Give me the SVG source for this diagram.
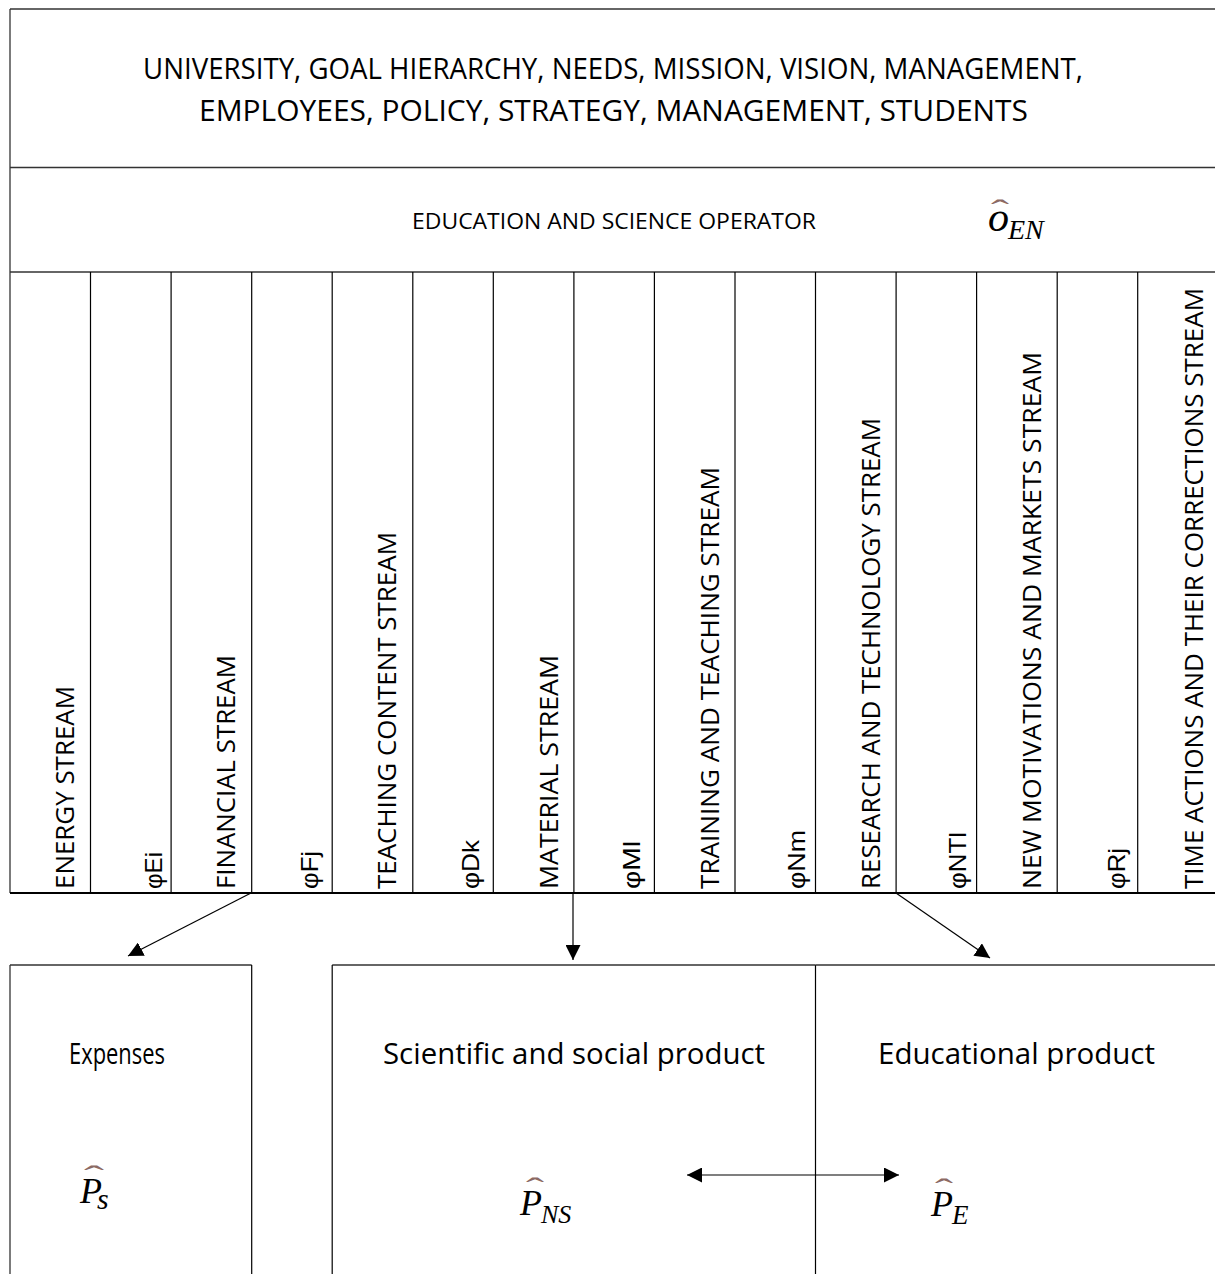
<svg xmlns="http://www.w3.org/2000/svg" width="1215" height="1274" viewBox="0 0 1215 1274">
<style>
.frame{stroke:#333;stroke-width:1.3;fill:none}
.div{stroke:#000;stroke-width:1.2;fill:none}
.title{font-family:"Open Sans","Liberation Sans",sans-serif;font-size:30px;fill:#000}
.op{font-family:"Open Sans","Liberation Sans",sans-serif;font-size:21px;fill:#000}
.stream{font-family:"Open Sans","Liberation Sans",sans-serif;font-size:25px;fill:#000}
.phi{font-family:"Liberation Sans",Arial,sans-serif;font-size:24px;fill:#000}
.label{font-family:"Open Sans","Liberation Sans",sans-serif;font-size:29px;fill:#000}
.math{font-family:"Liberation Serif","Times New Roman",serif;font-style:italic;fill:#000}
.hat{font-style:normal;font-size:30px;fill:#8c6a64}
.conn{stroke:#000;stroke-width:1.2;fill:none}
</style>
<defs>
<marker id="ah" viewBox="0 0 10 10" refX="10" refY="5" markerWidth="15" markerHeight="15" markerUnits="userSpaceOnUse" orient="auto-start-reverse">
<path d="M0,0 L10,5 L0,10 z" fill="#000"/>
</marker>
</defs>
<rect width="1215" height="1274" fill="#fff"/>

<g id="header">
<line class="frame" x1="10" y1="9" x2="1215" y2="9"/>
<line class="frame" x1="10" y1="9" x2="10" y2="893"/>
<line class="frame" x1="10" y1="167.5" x2="1215" y2="167.5"/>
<text class="title" x="143" y="79" textLength="940" lengthAdjust="spacingAndGlyphs">UNIVERSITY, GOAL HIERARCHY, NEEDS, MISSION, VISION, MANAGEMENT,</text>
<text class="title" x="199" y="121" textLength="829" lengthAdjust="spacingAndGlyphs">EMPLOYEES, POLICY, STRATEGY, MANAGEMENT, STUDENTS</text>
</g>

<g id="operator">
<line class="frame" x1="10" y1="272" x2="1215" y2="272"/>
<text class="op" x="412" y="229" textLength="404" lengthAdjust="spacingAndGlyphs">EDUCATION AND SCIENCE OPERATOR</text>
<text class="math" x="988" y="231" font-size="42"><tspan class="hat" x="991" y="220" textLength="18" lengthAdjust="spacingAndGlyphs">ˆ</tspan><tspan x="988" y="231">o</tspan><tspan x="1008" y="239" font-size="28">EN</tspan></text>
</g>

<g id="columns">
<line class="div" x1="90.5" y1="272" x2="90.5" y2="893"/>
<line class="div" x1="171.1" y1="272" x2="171.1" y2="893"/>
<line class="div" x1="251.7" y1="272" x2="251.7" y2="893"/>
<line class="div" x1="332.2" y1="272" x2="332.2" y2="893"/>
<line class="div" x1="412.8" y1="272" x2="412.8" y2="893"/>
<line class="div" x1="493.3" y1="272" x2="493.3" y2="893"/>
<line class="div" x1="573.9" y1="272" x2="573.9" y2="893"/>
<line class="div" x1="654.4" y1="272" x2="654.4" y2="893"/>
<line class="div" x1="735" y1="272" x2="735" y2="893"/>
<line class="div" x1="815.5" y1="272" x2="815.5" y2="893"/>
<line class="div" x1="896.1" y1="272" x2="896.1" y2="893"/>
<line class="div" x1="976.6" y1="272" x2="976.6" y2="893"/>
<line class="div" x1="1057.2" y1="272" x2="1057.2" y2="893"/>
<line class="div" x1="1137.7" y1="272" x2="1137.7" y2="893"/>
<line x1="10" y1="893" x2="1215" y2="893" stroke="#000" stroke-width="2"/>
</g>

<g id="col-energy"><text class="stream" transform="translate(74 889) rotate(-90)" textLength="203" lengthAdjust="spacingAndGlyphs">ENERGY STREAM</text></g>
<g id="col-phiEi"><text class="phi" transform="translate(162 889) rotate(-90)" textLength="37" lengthAdjust="spacingAndGlyphs">φEi</text></g>
<g id="col-financial"><text class="stream" transform="translate(235 889) rotate(-90)" textLength="234" lengthAdjust="spacingAndGlyphs">FINANCIAL STREAM</text></g>
<g id="col-phiFj"><text class="phi" transform="translate(318 889) rotate(-90)" textLength="38" lengthAdjust="spacingAndGlyphs">φFj</text></g>
<g id="col-teaching"><text class="stream" transform="translate(396 889) rotate(-90)" textLength="357" lengthAdjust="spacingAndGlyphs">TEACHING CONTENT STREAM</text></g>
<g id="col-phiDk"><text class="phi" transform="translate(479 889) rotate(-90)" textLength="49" lengthAdjust="spacingAndGlyphs">φDk</text></g>
<g id="col-material"><text class="stream" transform="translate(558 889) rotate(-90)" textLength="234" lengthAdjust="spacingAndGlyphs">MATERIAL STREAM</text></g>
<g id="col-phiMl"><text class="phi" transform="translate(640 889) rotate(-90)" textLength="48" lengthAdjust="spacingAndGlyphs">φMl</text></g>
<g id="col-training"><text class="stream" transform="translate(719 889) rotate(-90)" textLength="422" lengthAdjust="spacingAndGlyphs">TRAINING AND TEACHING STREAM</text></g>
<g id="col-phiNm"><text class="phi" transform="translate(805 889) rotate(-90)" textLength="59" lengthAdjust="spacingAndGlyphs">φNm</text></g>
<g id="col-research"><text class="stream" transform="translate(880 889) rotate(-90)" textLength="471" lengthAdjust="spacingAndGlyphs">RESEARCH AND TECHNOLOGY STREAM</text></g>
<g id="col-phiNTl"><text class="phi" transform="translate(966 889) rotate(-90)" textLength="57" lengthAdjust="spacingAndGlyphs">φNTl</text></g>
<g id="col-motivations"><text class="stream" transform="translate(1041 889) rotate(-90)" textLength="537" lengthAdjust="spacingAndGlyphs">NEW MOTIVATIONS AND MARKETS STREAM</text></g>
<g id="col-phiRj"><text class="phi" transform="translate(1125 889) rotate(-90)" textLength="41" lengthAdjust="spacingAndGlyphs">φRj</text></g>
<g id="col-time"><text class="stream" transform="translate(1203 889) rotate(-90)" textLength="601" lengthAdjust="spacingAndGlyphs">TIME ACTIONS AND THEIR CORRECTIONS STREAM</text></g>

<g id="connectors">
<line class="conn" x1="251" y1="893" x2="128" y2="956" marker-end="url(#ah)"/>
<line class="conn" x1="573" y1="893" x2="573" y2="960" marker-end="url(#ah)"/>
<line class="conn" x1="896" y1="893" x2="990" y2="958" marker-end="url(#ah)"/>
<line class="conn" x1="687" y1="1175" x2="899" y2="1175" marker-start="url(#ah)" marker-end="url(#ah)"/>
</g>

<g id="expenses">
<line class="frame" x1="10" y1="965" x2="251.7" y2="965"/>
<line class="frame" x1="10" y1="965" x2="10" y2="1274"/>
<line class="div" x1="251.7" y1="965" x2="251.7" y2="1274"/>
<text class="label" x="69" y="1064" textLength="96" lengthAdjust="spacingAndGlyphs">Expenses</text>
<text class="math" x="80" y="1203" font-size="36"><tspan class="hat" x="84" y="1186" textLength="20" lengthAdjust="spacingAndGlyphs">ˆ</tspan><tspan x="80" y="1203">P</tspan><tspan x="97" y="1209" font-size="30">s</tspan></text>
</g>

<g id="scientific">
<line class="frame" x1="332.2" y1="965" x2="815.5" y2="965"/>
<line class="div" x1="332.2" y1="965" x2="332.2" y2="1274"/>
<line class="div" x1="815.5" y1="965" x2="815.5" y2="1274"/>
<text class="label" x="383" y="1064" textLength="382" lengthAdjust="spacingAndGlyphs">Scientific and social product</text>
<text class="math" x="520" y="1215" font-size="36"><tspan class="hat" x="526" y="1198" textLength="18" lengthAdjust="spacingAndGlyphs">ˆ</tspan><tspan x="520" y="1215">P</tspan><tspan x="541" y="1223" font-size="26">NS</tspan></text>
</g>

<g id="educational">
<line class="frame" x1="815.5" y1="965" x2="1215" y2="965"/>
<text class="label" x="878" y="1064" textLength="277" lengthAdjust="spacingAndGlyphs">Educational product</text>
<text class="math" x="931" y="1216" font-size="36"><tspan class="hat" x="935" y="1199" textLength="18" lengthAdjust="spacingAndGlyphs">ˆ</tspan><tspan x="931" y="1216">P</tspan><tspan x="952" y="1224" font-size="27">E</tspan></text>
</g>
</svg>
